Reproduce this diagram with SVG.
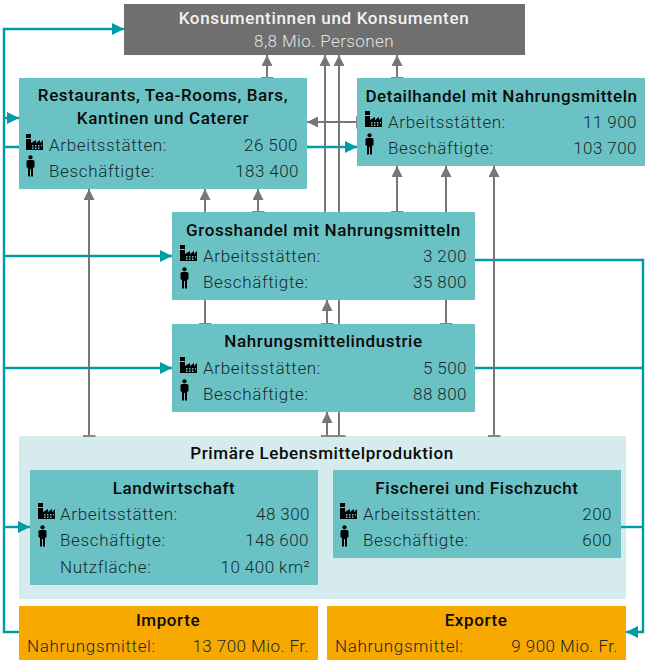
<svg xmlns="http://www.w3.org/2000/svg" xmlns:xlink="http://www.w3.org/1999/xlink" width="648" height="662" viewBox="0 0 648 662">
<style>
text{font-family:Roboto,"Liberation Sans",sans-serif;font-size:17px;letter-spacing:.65px}
.t{font-weight:500;text-anchor:middle;fill:#0b0b0b;letter-spacing:.6px}
.l{font-weight:300;fill:#17292c}
.r{font-weight:300;fill:#17292c;text-anchor:end;letter-spacing:.45px}
.w{fill:#f2f2f2;letter-spacing:.65px}.wl{fill:#e2e2e2;font-weight:300;text-anchor:middle;letter-spacing:.4px}
.tb{fill:#6bc2c5}.or{fill:#f7a900}
.g{stroke:#777;stroke-width:2;fill:none}
.c{stroke:#009ca6;stroke-width:2.4;fill:none}
</style>
<defs>
<marker id="ag" markerUnits="userSpaceOnUse" markerWidth="12" markerHeight="11" refX="11" refY="5.5" orient="auto"><path d="M0 0L11 5.500L0 11z" fill="#777"/></marker>
<marker id="ac" markerUnits="userSpaceOnUse" markerWidth="13" markerHeight="12" refX="12" refY="6" orient="auto"><path d="M0 0L12 6L0 12z" fill="#009ca6"/></marker>
<marker id="tg" markerUnits="userSpaceOnUse" markerWidth="3" markerHeight="13" refX="1" refY="6.500" orient="auto"><path d="M1 0V13" stroke="#888" stroke-width="2"/></marker>
<g id="fac"><path d="M0 0h5v4H0zM1 5h4v4l5-3v3l4-3v3l3-3v10H0V5z" fill="#000"/><path d="M6 11h1.500v1.500H6zM9 11h1.500v1.500H9zM12 11h1.500v1.500H12zM15 11h1v1.500h-1zM6 13.500h1.500V15H6zM9 13.500h1.500V15H9zM12 13.500h1.500V15H12z" fill="#6bc2c5"/></g>
<g id="per"><circle cx="4.500" cy="2.300" r="2.100" fill="#000"/><path d="M2 5h5q1.500 0 1.500 1.500v6H7V21.500H5V14H4V21.500H2V12.500H.5V6.500Q.5 5 2 5z" fill="#000"/></g>
</defs>
<rect id="primaer-bg" x="19" y="436" width="607" height="163" fill="#d6ebed"/>
<g id="connectors">
<path class="c" d="M19 632H4V29H124" marker-end="url(#ac)"/>
<path class="c" d="M4 118H19" marker-end="url(#ac)"/>
<path class="c" d="M4 147H357" marker-end="url(#ac)"/>
<path class="c" d="M4 256H172" marker-end="url(#ac)"/>
<path class="c" d="M4 368H172" marker-end="url(#ac)"/>
<path class="c" d="M4 527H30" marker-end="url(#ac)"/>
<path class="c" d="M475 260H643V632H626" marker-end="url(#ac)"/>
<path class="c" d="M475 368H643"/>
<path class="c" d="M621 527H643"/>
<path class="g" d="M267 78V55" marker-start="url(#tg)" marker-end="url(#ag)"/>
<path class="g" d="M397 78V55" marker-start="url(#tg)" marker-end="url(#ag)"/>
<path class="g" d="M325 212V55" marker-end="url(#ag)"/>
<path class="g" d="M339 436V55" marker-start="url(#tg)" marker-end="url(#ag)"/>
<path class="g" d="M357 122H307" marker-start="url(#tg)" marker-end="url(#ag)"/>
<path class="g" d="M89 436V189" marker-start="url(#tg)" marker-end="url(#ag)"/>
<path class="g" d="M205 324V189" marker-start="url(#tg)" marker-end="url(#ag)"/>
<path class="g" d="M258 212V189" marker-start="url(#tg)" marker-end="url(#ag)"/>
<path class="g" d="M397 212V166" marker-start="url(#tg)" marker-end="url(#ag)"/>
<path class="g" d="M446 324V166" marker-start="url(#tg)" marker-end="url(#ag)"/>
<path class="g" d="M494 436V166" marker-start="url(#tg)" marker-end="url(#ag)"/>
<path class="g" d="M327 324V300" marker-start="url(#tg)" marker-end="url(#ag)"/>
<path class="g" d="M327 436V412" marker-start="url(#tg)" marker-end="url(#ag)"/>
</g>
<g id="konsumenten">
<rect x="124" y="4" width="401" height="51" fill="#6f6f6f"/>
<text class="t w" x="324" y="24">Konsumentinnen und Konsumenten</text>
<text class="wl" x="324" y="47">8,8 Mio. Personen</text>
</g>
<g id="restaurants">
<rect class="tb" x="19" y="78" width="288" height="111"/>
<text class="t" x="163" y="101">Restaurants, Tea-Rooms, Bars,</text>
<text class="t" x="163" y="124">Kantinen und Caterer</text>
<use xlink:href="#fac" href="#fac" x="26" y="134"/><use xlink:href="#per" href="#per" x="26" y="155"/>
<text class="l" x="49" y="151">Arbeitsstätten:</text><text class="r" x="298" y="151">26 500</text>
<text class="l" x="49" y="177">Beschäftigte:</text><text class="r" x="299" y="177">183 400</text>
</g>
<g id="detailhandel">
<rect class="tb" x="357" y="78" width="288" height="88"/>
<text class="t" x="501.500" y="102" style="letter-spacing:.52px">Detailhandel mit Nahrungsmitteln</text>
<use xlink:href="#fac" href="#fac" x="365" y="111"/><use xlink:href="#per" href="#per" x="365" y="133"/>
<text class="l" x="388" y="128">Arbeitsstätten:</text><text class="r" x="637" y="128">11 900</text>
<text class="l" x="388" y="154">Beschäftigte:</text><text class="r" x="637" y="154">103 700</text>
</g>
<g id="grosshandel">
<rect class="tb" x="172" y="212" width="303" height="88"/>
<text class="t" x="323.500" y="236">Grosshandel mit Nahrungsmitteln</text>
<use xlink:href="#fac" href="#fac" x="180" y="245"/><use xlink:href="#per" href="#per" x="180" y="267"/>
<text class="l" x="203" y="262">Arbeitsstätten:</text><text class="r" x="467" y="262">3 200</text>
<text class="l" x="203" y="288">Beschäftigte:</text><text class="r" x="467" y="288">35 800</text>
</g>
<g id="industrie">
<rect class="tb" x="172" y="324" width="303" height="88"/>
<text class="t" x="323.500" y="347">Nahrungsmittelindustrie</text>
<use xlink:href="#fac" href="#fac" x="180" y="357"/><use xlink:href="#per" href="#per" x="180" y="379"/>
<text class="l" x="203" y="374">Arbeitsstätten:</text><text class="r" x="467" y="374">5 500</text>
<text class="l" x="203" y="400">Beschäftigte:</text><text class="r" x="467" y="400">88 800</text>
</g>
<g id="primaer">
<text class="t" x="322" y="459">Primäre Lebensmittelproduktion</text>
</g>
<g id="landwirtschaft">
<rect class="tb" x="30" y="470" width="288" height="115"/>
<text class="t" x="174" y="494">Landwirtschaft</text>
<use xlink:href="#fac" href="#fac" x="38" y="503"/><use xlink:href="#per" href="#per" x="38" y="525"/>
<text class="l" x="60" y="520">Arbeitsstätten:</text><text class="r" x="310" y="520">48 300</text>
<text class="l" x="60" y="546">Beschäftigte:</text><text class="r" x="309" y="546">148 600</text>
<text class="l" x="60" y="573">Nutzfläche:</text><text class="r" x="310" y="573">10 400 km²</text>
</g>
<g id="fischerei">
<rect class="tb" x="333" y="470" width="288" height="88"/>
<text class="t" x="477" y="494">Fischerei und Fischzucht</text>
<use xlink:href="#fac" href="#fac" x="340" y="503"/><use xlink:href="#per" href="#per" x="340" y="525"/>
<text class="l" x="363" y="520">Arbeitsstätten:</text><text class="r" x="612" y="520">200</text>
<text class="l" x="363" y="546">Beschäftigte:</text><text class="r" x="612" y="546">600</text>
</g>
<g id="importe">
<rect class="or" x="19" y="606" width="299" height="54"/>
<text class="t" x="168" y="626">Importe</text>
<text class="l" x="27" y="652">Nahrungsmittel:</text><text class="r" x="309" y="652">13 700 Mio. Fr.</text>
</g>
<g id="exporte">
<rect class="or" x="327" y="606" width="299" height="54"/>
<text class="t" x="476" y="626">Exporte</text>
<text class="l" x="335" y="652">Nahrungsmittel:</text><text class="r" x="618" y="652">9 900 Mio. Fr.</text>
</g>
</svg>
